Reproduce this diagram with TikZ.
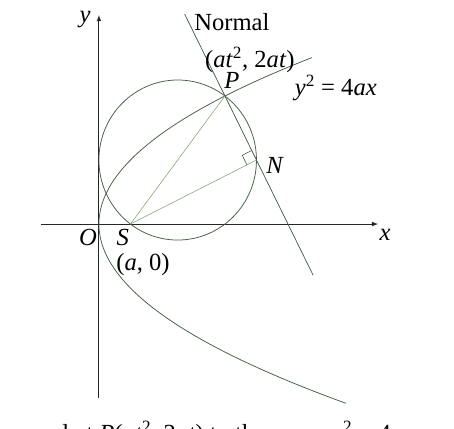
\documentclass[tikz,border=0pt]{standalone}
\usepackage{fontspec}
\setmainfont{Liberation Serif}
\usetikzlibrary{calc}
\definecolor{curvegray}{RGB}{70,95,70}
\definecolor{chordgreen}{RGB}{135,165,125}
\tikzset{
  axisline/.style={black!85, line width=0.8pt},
  curveline/.style={curvegray, line width=0.65pt},
  chord/.style={chordgreen, line width=0.5pt},
  lbl/.style={font=\fontsize{21}{24}\selectfont, inner sep=1pt},
}
\newcommand{\iv}[1]{\textit{#1}}
\newcommand{\sq}{\textsuperscript{2}}
\begin{document}
\begin{tikzpicture}[x=0.945cm, y=0.96cm]
  \useasboundingbox (-3.14,-6.375) rectangle (11.27,7.0);
  % points
  \coordinate (O) at (0,0);
  \coordinate (S) at (1,0);
  \coordinate (P) at (4,4);
  \coordinate (N) at (5,2);
  \coordinate (C) at (2.5,2);
  % axes
  \draw[axisline, -latex] (-1.84,0) coordinate (xl) -- (8.86,0) coordinate (xr);
  \draw[axisline, -latex] (0,-5.44) coordinate (yb) -- (0,6.53) coordinate (yt);
  % parabola y^2 = 4x
  \draw[curveline, domain=-5.6:5.2, samples=80, smooth] plot ({\x*\x/4},\x);
  % normal at P
  \draw[curveline] ($(P)+(-1.28,2.56)$) coordinate (nt) -- ($(P)+(2.8,-5.6)$) coordinate (nb);
  % circle on diameter SP
  \draw[curveline] (C) circle (2.5);
  % chords
  \draw[chord] (S) -- (P);
  \draw[chord] (S) -- (N);
  % right angle at N
  \draw[curveline, line width=0.5pt] ($(N)!0.32cm!(P)$) -- ($(N)!0.32cm!(P)+(N)!0.32cm!(S)-(N)$) -- ($(N)!0.32cm!(S)$);
  % labels
  \node[lbl] (ylab) at (-0.44,6.38) {\iv{y}};
  \node[lbl] (xlab) at (9.08,-0.34) {\iv{x}};
  \node[lbl] (nrm) at (4.22,6.31) {Normal};
  \node[lbl] (Pc) at (4.79,5.13) {(\iv{at}\sq, 2\iv{at})};
  \node[lbl] (Plab) at (4.22,4.5) {\iv{P}};
  \node[lbl] (eq) at (7.52,4.25) {\iv{y}\sq\ = 4\iv{ax}};
  \node[lbl] (Nlab) at (5.59,1.84) {\iv{N}};
  \node[lbl] (Olab) at (-0.35,-0.41) {\iv{O}};
  \node[lbl] (Slab) at (0.76,-0.41) {\iv{S}};
  \node[lbl] (Sc) at (1.4,-1.28) {(\iv{a}, 0)};
  % caption line cut off by the page edge
  \begin{scope}
    \clip (-3.14,-6.375) rectangle (11.27,7.0);
    \node[lbl, anchor=base west] (cap) at (-3.2,-6.8) {normal at \iv{P}(\iv{at}\sq, 2\iv{at}) to the curve \iv{y}\sq\ = 4\iv{ax}};
  \end{scope}
\end{tikzpicture}
\end{document}
